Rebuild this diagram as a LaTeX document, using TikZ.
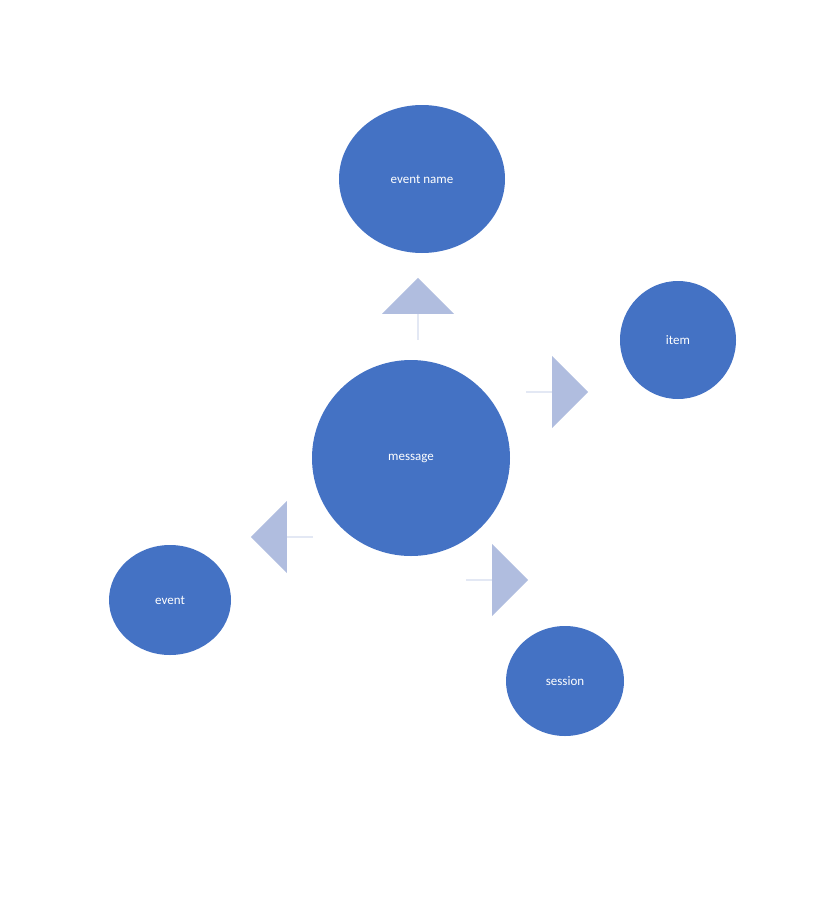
\documentclass[tikz,border=0pt]{standalone}
\usepackage{fontspec}
\setmainfont{Carlito}
\usetikzlibrary{shapes.arrows,shapes.geometric}
\definecolor{bubble}{HTML}{4472C4}
\definecolor{pointer}{HTML}{B0BDDF}
\begin{document}
\begin{tikzpicture}[x=1pt, y=-1pt,
    bubble/.style={ellipse, fill=bubble, text=white, inner sep=0pt,
        font=\fontsize{13}{15}\selectfont},
    pointer/.style={single arrow, fill=pointer, inner sep=0pt,
        minimum height=62pt, minimum width=72pt, single arrow head extend=16pt,
        single arrow head indent=0pt}]
    \useasboundingbox (0,0) rectangle (820,897);

    % Bubbles
    \node[bubble, minimum width=198pt, minimum height=196pt] (message) at (411,458) {message};
    \node[bubble, minimum width=166pt, minimum height=148pt] (eventname) at (422,179) {event name};
    \node[bubble, minimum width=116pt, minimum height=118pt] (item) at (678,340) {item};
    \node[bubble, minimum width=122pt, minimum height=110pt] (event) at (170,600) {event};
    \node[bubble, minimum width=118pt, minimum height=110pt] (session) at (565,681) {session};

    % Pointers
    \node[pointer, shape border rotate=87] (toname) at (418,309) {};
    \node[pointer, shape border rotate=26] (toitem) at (557,392) {};
    \node[pointer, shape border rotate=-55] (tosession) at (497,580) {};
    \node[pointer, shape border rotate=208] (toevent) at (282,537) {};
\end{tikzpicture}
\end{document}
